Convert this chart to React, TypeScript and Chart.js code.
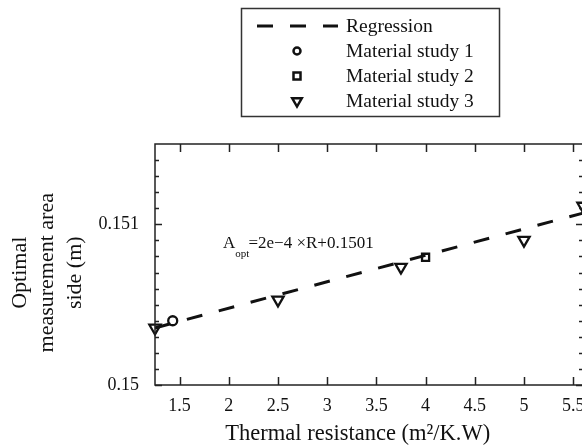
import React, { useEffect, useRef } from "react";
import { Chart, registerables } from "chart.js";

Chart.register(...registerables);

// ---- data ----
const study1R = [1.43];
const study1A = [0.1504];
const study2R = [4.0];
const study2A = [0.150795];
const study3R = [1.25, 2.5, 3.75, 5.0, 5.6];
const study3A = [0.150355, 0.15053, 0.150734, 0.150902, 0.151114];
const regressionR = [1.25, 5.6];
const regressionA = [0.150355, 0.15107];

const xTickValues = [1.5, 2, 2.5, 3, 3.5, 4, 4.5, 5, 5.5];
const yTickValues = [0.15, 0.151];
const yTickLabels = ["0.15", "0.151"];
const yMinorValues = [
  0.1501, 0.1502, 0.1503, 0.1504, 0.1505, 0.1506, 0.1507, 0.1508, 0.1509,
  0.1511, 0.1512, 0.1513, 0.1514,
];
const legendLabels = ["Regression", "Material study 1", "Material study 2", "Material study 3"];
const equationMain = "=2e\u22124 \u00D7R+0.1501";
const equationAnchor = { r: 1.942, a: 0.150853 };

const FONT = "'Liberation Serif', 'Times New Roman', serif";
const INK = "#111";

const toPts = (xs: number[], ys: number[]) => xs.map((x, i) => ({ x, y: ys[i] }));

const framePlugin = {
  id: "frameTicks",
  afterDraw(chart: any) {
    const { ctx, chartArea: ca, scales } = chart;
    const xs = scales.x;
    const ys = scales.y;
    ctx.save();
    ctx.strokeStyle = "#222";
    ctx.lineWidth = 1.5;
    ctx.strokeRect(ca.left, ca.top, ca.right - ca.left, ca.bottom - ca.top);
    ctx.beginPath();
    for (const v of xTickValues) {
      const px = Math.round(xs.getPixelForValue(v)) + 0.5;
      ctx.moveTo(px, ca.bottom);
      ctx.lineTo(px, ca.bottom - 8);
      ctx.moveTo(px, ca.top);
      ctx.lineTo(px, ca.top + 8);
    }
    for (const v of yTickValues) {
      const py = Math.round(ys.getPixelForValue(v)) + 0.5;
      ctx.moveTo(ca.left, py);
      ctx.lineTo(ca.left + 7, py);
      ctx.moveTo(ca.right, py);
      ctx.lineTo(ca.right - 7, py);
    }
    for (const v of yMinorValues) {
      const py = Math.round(ys.getPixelForValue(v)) + 0.5;
      ctx.moveTo(ca.left, py);
      ctx.lineTo(ca.left + 4, py);
      ctx.moveTo(ca.right, py);
      ctx.lineTo(ca.right - 4, py);
    }
    ctx.stroke();

    // equation annotation
    const ex = xs.getPixelForValue(equationAnchor.r);
    const ey = ys.getPixelForValue(equationAnchor.a);
    ctx.fillStyle = INK;
    ctx.textBaseline = "alphabetic";
    ctx.textAlign = "left";
    ctx.font = `17px ${FONT}`;
    ctx.fillText("A", ex, ey);
    const aw = ctx.measureText("A").width;
    ctx.font = `11px ${FONT}`;
    ctx.fillText("opt", ex + aw, ey + 9);
    const ow = ctx.measureText("opt").width;
    ctx.font = `17px ${FONT}`;
    ctx.fillText(equationMain, ex + aw + ow - 1, ey);

    // legend
    const bx = 241, by = 8, bw = 258, bh = 108;
    ctx.lineWidth = 1.5;
    ctx.strokeStyle = "#333";
    ctx.strokeRect(bx + 0.5, by + 0.5, bw, bh);
    const rows = [26, 51, 76, 101];
    const mx = 297;
    ctx.font = `19.5px ${FONT}`;
    ctx.textBaseline = "middle";
    legendLabels.forEach((lab, i) => {
      ctx.fillStyle = INK;
      ctx.fillText(lab, 346, rows[i] + 1);
    });
    ctx.strokeStyle = INK;
    // regression sample
    ctx.lineWidth = 3;
    ctx.setLineDash([16, 17]);
    ctx.beginPath();
    ctx.moveTo(257, rows[0]);
    ctx.lineTo(338, rows[0]);
    ctx.stroke();
    ctx.setLineDash([]);
    ctx.lineWidth = 2.5;
    // circle
    ctx.beginPath();
    ctx.arc(mx, rows[1], 3.5, 0, Math.PI * 2);
    ctx.stroke();
    // square
    ctx.strokeRect(mx - 3.5, rows[2] - 3.5, 7, 7);
    // down triangle
    const r = 5.5;
    ctx.beginPath();
    ctx.moveTo(mx - r * 0.866, rows[3] - r / 2);
    ctx.lineTo(mx + r * 0.866, rows[3] - r / 2);
    ctx.lineTo(mx, rows[3] + r);
    ctx.closePath();
    ctx.stroke();
    ctx.restore();
  },
};

export default function App() {
  const ref = useRef<HTMLCanvasElement | null>(null);
  useEffect(() => {
    if (!ref.current) return;
    Chart.defaults.font.family = FONT;
    Chart.defaults.color = INK;
    const markerCommon = {
      showLine: false,
      borderColor: INK,
      backgroundColor: "rgba(0,0,0,0)",
      borderWidth: 2.3,
      clip: false as any,
    };
    const chart = new Chart(ref.current, {
      type: "scatter",
      data: {
        datasets: [
          {
            type: "line",
            label: legendLabels[0],
            data: toPts(regressionR, regressionA),
            borderColor: INK,
            borderWidth: 3,
            borderDash: [16, 17],
            pointRadius: 0,
            fill: false,
            clip: false as any,
          } as any,
          {
            ...markerCommon,
            label: legendLabels[1],
            data: toPts(study1R, study1A),
            pointStyle: "circle",
            pointRadius: 4.5,
          },
          {
            ...markerCommon,
            label: legendLabels[2],
            data: toPts(study2R, study2A),
            pointStyle: "rect",
            pointRadius: 5,
          },
          {
            ...markerCommon,
            label: legendLabels[3],
            data: toPts(study3R, study3A),
            pointStyle: "triangle",
            pointRotation: 180,
            pointRadius: 6.5,
          } as any,
        ],
      },
      options: {
        animation: false,
        responsive: false,
        layout: { padding: { top: 144, right: 17, left: 0, bottom: 0 } },
        plugins: { legend: { display: false }, tooltip: { enabled: false } },
        scales: {
          x: {
            type: "linear",
            min: 1.25,
            max: 5.6,
            grid: { display: false, drawTicks: false },
            border: { display: false },
            afterBuildTicks: (s: any) => {
              s.ticks = xTickValues.map((v) => ({ value: v }));
            },
            afterFit: (s: any) => {
              s.height = 63;
            },
            ticks: {
              font: { size: 18 },
              padding: 10,
              maxRotation: 0,
              autoSkip: false,
              callback: (v: any) => String(v),
            },
            title: {
              display: true,
              text: "Thermal resistance (m\u00B2/K.W)    ",
              font: { size: 22.5 },
              padding: { top: 0, bottom: 0 },
            },
          },
          y: {
            type: "linear",
            min: 0.15,
            max: 0.1515,
            grid: { display: false, drawTicks: false },
            border: { display: false },
            afterBuildTicks: (s: any) => {
              s.ticks = yTickValues.map((v) => ({ value: v }));
            },
            afterFit: (s: any) => {
              s.width = 155;
            },
            ticks: {
              font: { size: 18 },
              padding: 16,
              autoSkip: false,
              callback: (_v: any, i: number) => yTickLabels[i],
            },
            title: {
              display: true,
              text: ["Optimal   ", "measurement area   ", "side (m)   "],
              font: { size: 22, lineHeight: 1.25 },
              padding: { top: 6, bottom: 0 },
            },
          },
        },
      },
      plugins: [framePlugin],
    } as any);
    return () => chart.destroy();
  }, []);
  return (
    <div
      style={{
        position: "absolute",
        left: 0,
        top: 0,
        width: 582,
        height: 448,
        overflow: "hidden",
        background: "#fff",
      }}
    >
      <canvas ref={ref} width={600} height={448} style={{ display: "block" }} />
    </div>
  );
}
